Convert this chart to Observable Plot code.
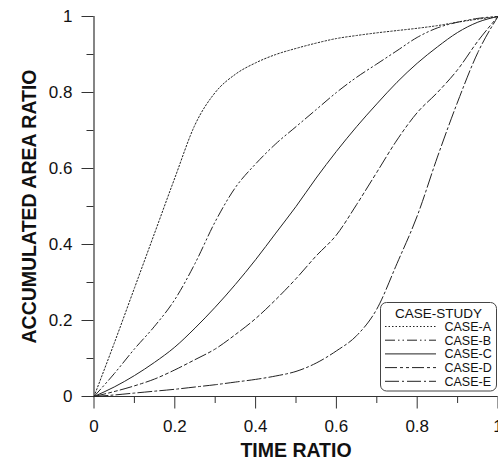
<!DOCTYPE html>
<html>
<head>
<meta charset="utf-8">
<script src="https://cdn.jsdelivr.net/npm/d3@7"></script>
<script src="https://cdn.jsdelivr.net/npm/@observablehq/plot@0.6"></script>
<style>
  body { margin: 0; background: #fff; }
  svg { display: block; }
</style>
</head>
<body>
<div id="chart"></div>
<script>
// Time ratio samples shared by all case studies
const timeRatio = [0, 0.05, 0.1, 0.15, 0.2, 0.25, 0.3, 0.35, 0.4, 0.45, 0.5, 0.55, 0.6, 0.65, 0.7, 0.75, 0.8, 0.85, 0.9, 0.95, 1];

// Accumulated area ratio for each case study
const caseA = [0, 0.14, 0.285, 0.43, 0.575, 0.715, 0.80, 0.848, 0.878, 0.90, 0.916, 0.93, 0.942, 0.95, 0.957, 0.963, 0.969, 0.976, 0.985, 0.993, 1];
const caseB = [0, 0.06, 0.125, 0.185, 0.255, 0.35, 0.46, 0.55, 0.612, 0.665, 0.71, 0.755, 0.80, 0.84, 0.875, 0.91, 0.945, 0.97, 0.985, 0.995, 1];
const caseC = [0, 0.025, 0.055, 0.09, 0.13, 0.18, 0.235, 0.295, 0.36, 0.43, 0.50, 0.575, 0.645, 0.71, 0.77, 0.827, 0.877, 0.92, 0.958, 0.985, 1];
const caseD = [0, 0.013, 0.028, 0.046, 0.07, 0.097, 0.125, 0.163, 0.205, 0.255, 0.31, 0.37, 0.425, 0.505, 0.59, 0.675, 0.747, 0.80, 0.86, 0.935, 1];
const caseE = [0, 0.004, 0.009, 0.014, 0.019, 0.025, 0.031, 0.038, 0.045, 0.054, 0.066, 0.088, 0.12, 0.16, 0.23, 0.35, 0.475, 0.63, 0.775, 0.905, 1];

const caseNames = ["CASE-A", "CASE-B", "CASE-C", "CASE-D", "CASE-E"];
const dashPatterns = ["1.5,2", "10,3,1.5,3,1.5,3", "none", "12,3,3,3,3,3", "14,3,2,3"];

// Axis ticks and labels
const majorTicks = [0, 0.2, 0.4, 0.6, 0.8, 1];
const tickLabels = ["0", "0.2", "0.4", "0.6", "0.8", "1"];
const minorTicks = [0.1, 0.3, 0.5, 0.7, 0.9];

const series = [caseA, caseB, caseC, caseD, caseE];
const font = "'Liberation Sans', Arial, Helvetica, sans-serif";
const ink = "#222";
const axisInk = "#333";

const lineMarks = series.map((vals, i) =>
  Plot.line(timeRatio.map((t, j) => ({t, area: vals[j], name: caseNames[i]})), {
    x: "t",
    y: "area",
    curve: "monotone-x",
    stroke: ink,
    strokeWidth: 1,
    strokeDasharray: dashPatterns[i]
  })
);

const labelFor = d => tickLabels[majorTicks.indexOf(d)];

const chart = Plot.plot({
  width: 498,
  height: 460,
  marginLeft: 93.5,
  marginRight: 0.5,
  marginTop: 16,
  marginBottom: 64,
  x: {domain: [0, 1], axis: null},
  y: {domain: [0, 1], axis: null},
  style: {fontFamily: font, background: "white", color: "#111", overflow: "visible"},
  marks: [
    // axis lines
    Plot.ruleY([0], {x1: 0, x2: 1, stroke: axisInk, strokeWidth: 1.2}),
    Plot.ruleX([0], {y1: 0, y2: 1, stroke: axisInk, strokeWidth: 1.2}),
    // x ticks
    Plot.axisX(minorTicks, {anchor: "bottom", tickSize: 7, tickFormat: () => "", stroke: axisInk, label: null}),
    Plot.axisX(majorTicks, {anchor: "bottom", tickSize: 12.5, tickPadding: 11, tickFormat: labelFor, fontSize: 17, stroke: axisInk, label: null}),
    // y ticks
    Plot.axisY(minorTicks, {anchor: "left", tickSize: 7, tickFormat: () => "", stroke: axisInk, label: null}),
    Plot.axisY(majorTicks, {anchor: "left", tickSize: 12, tickPadding: 9.5, tickFormat: labelFor, fontSize: 17, stroke: axisInk, label: null}),
    // axis titles
    Plot.text(["TIME RATIO"], {text: d => d, frameAnchor: "bottom", lineAnchor: "bottom", dy: 60, fontSize: 19.5, fontWeight: "bold", fill: "#111"}),
    Plot.text(["ACCUMULATED AREA RATIO"], {text: d => d, frameAnchor: "left", textAnchor: "middle", lineAnchor: "bottom", rotate: -90, dx: -58.5, fontSize: 19.5, fontWeight: "bold", fill: "#111"}),
    ...lineMarks
  ]
});

// Legend box in the lower right corner
const svg = d3.select(chart);
const legend = svg.append("g").attr("font-family", font).attr("fill", "#111");
legend.append("rect")
  .attr("x", 380.5).attr("y", 302.5)
  .attr("width", 116).attr("height", 88.5)
  .attr("rx", 6).attr("ry", 6)
  .attr("fill", "white")
  .attr("stroke", "#444")
  .attr("stroke-width", 1);
legend.append("text")
  .attr("x", 438.5).attr("y", 318)
  .attr("text-anchor", "middle")
  .attr("font-size", 13.5)
  .text("CASE-STUDY");
caseNames.forEach((name, i) => {
  const base = 331 + 13.7 * i;
  legend.append("line")
    .attr("x1", 385).attr("x2", 436)
    .attr("y1", base - 4.5).attr("y2", base - 4.5)
    .attr("stroke", ink)
    .attr("stroke-width", 1)
    .attr("stroke-dasharray", dashPatterns[i]);
  legend.append("text")
    .attr("x", 444.5).attr("y", base)
    .attr("text-anchor", "start")
    .attr("font-size", 12.5)
    .text(name);
});

document.getElementById("chart").appendChild(chart);
</script>
</body>
</html>
